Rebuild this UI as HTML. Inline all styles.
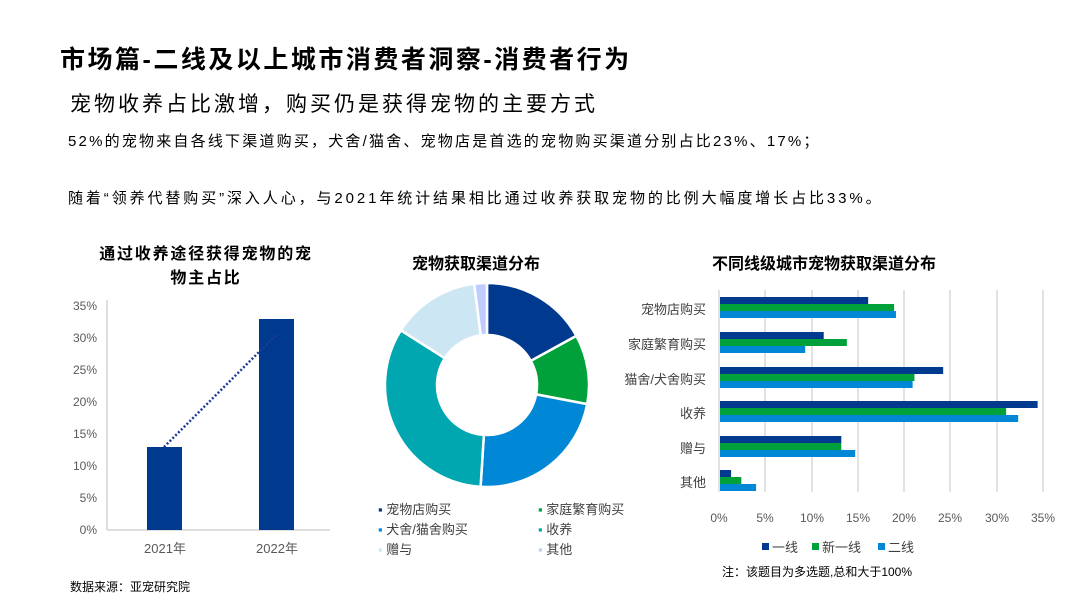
<!DOCTYPE html><html><head><meta charset="utf-8"><style>
body{margin:0;width:1080px;height:608px;background:#fff;font-family:"Liberation Sans","Noto Sans CJK SC",sans-serif;position:relative;overflow:hidden;color:#000}
.a{position:absolute;white-space:nowrap}
</style></head><body>
<div class="a" style="left:60px;top:40px;font-size:25px;font-weight:bold;letter-spacing:2.5px">市场篇-二线及以上城市消费者洞察-消费者行为</div>
<div class="a" style="left:70px;top:88px;font-size:21px;letter-spacing:3px">宠物收养占比激增，购买仍是获得宠物的主要方式</div>
<div class="a" style="left:68px;top:130px;font-size:15px;letter-spacing:2.2px">52%的宠物来自各线下渠道购买，犬舍/猫舍、宠物店是首选的宠物购买渠道分别占比23%、17%；</div>
<div class="a" style="left:68px;top:187px;font-size:15px;letter-spacing:2.9px">随着“领养代替购买”深入人心，与2021年统计结果相比通过收养获取宠物的比例大幅度增长占比33%。</div>
<div class="a" style="left:92px;top:243px;font-size:16px;font-weight:bold;text-align:center;width:228px;white-space:normal;line-height:24px;letter-spacing:1.8px">通过收养途径获得宠物的宠物主占比</div>
<div class="a" style="left:412px;top:250px;font-size:16px;font-weight:bold">宠物获取渠道分布</div>
<div class="a" style="left:712px;top:250px;font-size:16px;font-weight:bold">不同线级城市宠物获取渠道分布</div>
<div class="a" style="left:70px;top:578px;font-size:12px">数据来源：亚宠研究院</div>
<svg class="a" style="left:0;top:0" width="1080" height="608" font-family="Liberation Sans, Noto Sans CJK SC, sans-serif">
<g font-size="12" fill="#595959" text-anchor="end">
<text x="97" y="534">0%</text><text x="97" y="502">5%</text><text x="97" y="470">10%</text><text x="97" y="438">15%</text><text x="97" y="406">20%</text><text x="97" y="374">25%</text><text x="97" y="342">30%</text><text x="97" y="310">35%</text>
</g>
<line x1="107" y1="300" x2="107" y2="530" stroke="#bfbfbf"/>
<line x1="107" y1="530" x2="330" y2="530" stroke="#bfbfbf"/>
<rect x="147" y="447" width="35" height="83" fill="#003a8f"/>
<rect x="259" y="319" width="35" height="211" fill="#003a8f"/>
<line x1="164" y1="447" x2="276" y2="335" stroke="#1f3a9a" stroke-width="2.5" stroke-dasharray="2,2"/>
<text x="165" y="553" font-size="13" fill="#595959" text-anchor="middle">2021年</text>
<text x="277" y="553" font-size="13" fill="#595959" text-anchor="middle">2022年</text>
<g id="donut"></g>
<g font-size="13" fill="#404040">
<text x="378" y="514"><tspan fill="#003a8f">▪</tspan> 宠物店购买</text>
<text x="538" y="514"><tspan fill="#00a03a">▪</tspan> 家庭繁育购买</text>
<text x="378" y="534"><tspan fill="#0088d6">▪</tspan> 犬舍/猫舍购买</text>
<text x="538" y="534"><tspan fill="#00a7b0">▪</tspan> 收养</text>
<text x="378" y="554"><tspan fill="#cce6f4">▪</tspan> 赠与</text>
<text x="538" y="554"><tspan fill="#c0ccff">▪</tspan> 其他</text>
</g>
<g stroke="#d9d9d9" stroke-width="1.5">
<line x1="719" y1="290" x2="719" y2="492"/><line x1="765" y1="290" x2="765" y2="492"/><line x1="812" y1="290" x2="812" y2="492"/><line x1="858" y1="290" x2="858" y2="492"/><line x1="904" y1="290" x2="904" y2="492"/><line x1="950" y1="290" x2="950" y2="492"/><line x1="997" y1="290" x2="997" y2="492"/><line x1="1043" y1="290" x2="1043" y2="492"/>
</g>
<g id="bars"></g>
<g font-size="12" fill="#595959" text-anchor="middle">
<text x="719" y="522">0%</text><text x="765" y="522">5%</text><text x="812" y="522">10%</text><text x="858" y="522">15%</text><text x="904" y="522">20%</text><text x="950" y="522">25%</text><text x="997" y="522">30%</text><text x="1043" y="522">35%</text>
</g>
<g font-size="13" fill="#404040" text-anchor="end">
<text x="706" y="314">宠物店购买</text><text x="706" y="349">家庭繁育购买</text><text x="706" y="384">猫舍/犬舍购买</text><text x="706" y="418">收养</text><text x="706" y="453">赠与</text><text x="706" y="487">其他</text>
</g>
<g font-size="13" fill="#404040">
<rect x="762" y="543" width="7" height="7" fill="#003a8f"/><text x="772" y="552">一线</text>
<rect x="812" y="543" width="7" height="7" fill="#00a03a"/><text x="822" y="552">新一线</text>
<rect x="878" y="543" width="7" height="7" fill="#0088d6"/><text x="888" y="552">二线</text>
<text x="722" y="576" font-size="12" fill="#000">注：该题目为多选题,总和大于100%</text>
</g>
</svg>
<script>
var ns="http://www.w3.org/2000/svg";
var d=document.getElementById("donut"),cx=487,cy=385,R=102,r=50;
var v=[17,11,23,33,14,2],c=["#003a8f","#00a03a","#0088d6","#00a7b0","#cce6f4","#c0ccff"],a=0;
v.forEach(function(x,i){var a0=a/100*2*Math.PI,a1=(a+x)/100*2*Math.PI;a+=x;
function P(rr,t){return (cx+rr*Math.sin(t)).toFixed(2)+","+(cy-rr*Math.cos(t)).toFixed(2)}
var lg=x>50?1:0,p=document.createElementNS(ns,"path");
p.setAttribute("d","M"+P(R,a0)+"A"+R+","+R+" 0 "+lg+" 1 "+P(R,a1)+"L"+P(r,a1)+"A"+r+","+r+" 0 "+lg+" 0 "+P(r,a0)+"Z");
p.setAttribute("fill",c[i]);p.setAttribute("stroke","#fff");p.setAttribute("stroke-width","2.5");d.appendChild(p);});
var b=document.getElementById("bars"),data=[[16,18.8,19],[11.2,13.7,9.2],[24.1,21,20.8],[34.3,30.9,32.2],[13.1,13.1,14.6],[1.2,2.3,3.9]],tops=[297,332,367,401,436,470],bc=["#003a8f","#00a03a","#0088d6"];
data.forEach(function(row,i){row.forEach(function(x,j){var e=document.createElementNS(ns,"rect");e.setAttribute("x",720);e.setAttribute("y",tops[i]+j*7);e.setAttribute("width",x*9.26);e.setAttribute("height",7);e.setAttribute("fill",bc[j]);b.appendChild(e);});});
</script>
</body></html>
